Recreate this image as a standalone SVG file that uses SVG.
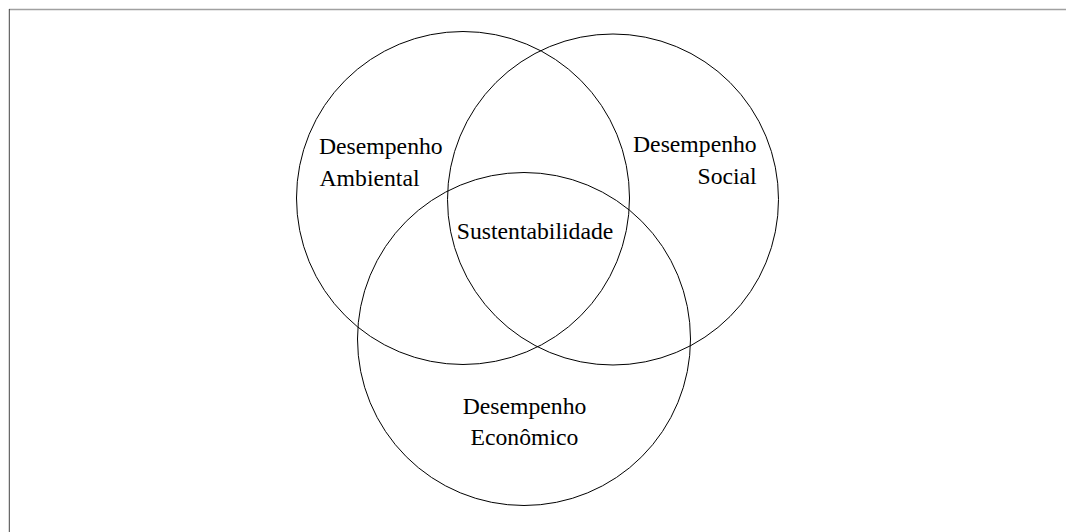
<svg xmlns="http://www.w3.org/2000/svg" width="1067" height="532" viewBox="0 0 1067 532">
<style>
.c{fill:none;stroke:#000;stroke-width:1}
.t{font-family:"Liberation Serif","Times New Roman",serif;font-size:23.7px;fill:#000}
</style>
<rect width="1067" height="532" fill="#fff"/>
<g id="frame">
<line x1="9" y1="9.5" x2="1066" y2="9.5" stroke="#a0a0a0" stroke-width="1.4"/>
<line x1="9.3" y1="9" x2="9.3" y2="532" stroke="#444" stroke-width="1"/>
</g>
<g id="connectors"></g>
<g id="ambiental">
<circle class="c" cx="463" cy="198" r="166.5"/>
<text class="t" x="319" y="154">Desempenho</text>
<text class="t" x="319.5" y="186">Ambiental</text>
</g>
<g id="social">
<circle class="c" cx="613" cy="199.5" r="165.5"/>
<text class="t" x="756.7" y="152" text-anchor="end">Desempenho</text>
<text class="t" x="756.7" y="183.5" text-anchor="end">Social</text>
</g>
<g id="economico">
<circle class="c" cx="524" cy="339" r="166.5"/>
<text class="t" x="524.5" y="413.5" text-anchor="middle">Desempenho</text>
<text class="t" x="524.5" y="445" text-anchor="middle">Econômico</text>
</g>
<g id="sustentabilidade">
<text class="t" x="535" y="239" text-anchor="middle">Sustentabilidade</text>
</g>
</svg>
